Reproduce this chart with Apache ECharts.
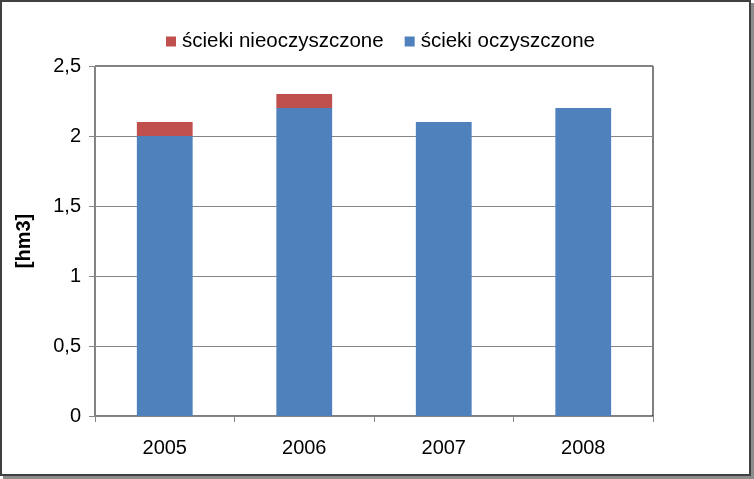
<!DOCTYPE html>
<html>
<head>
<meta charset="utf-8">
<script src="https://cdn.jsdelivr.net/npm/echarts@6/dist/echarts.min.js"></script>
<style>
  html, body { margin: 0; padding: 0; background: #fff; }
  #frame {
    position: absolute; left: 0; top: 0;
    width: 747px; height: 472px;
    border: 2px solid #404040;
    box-shadow: 3px 3px 0 #8c8c8c;
    background: #fff;
  }
  #chart { width: 747px; height: 472px; }
</style>
</head>
<body>
<div id="frame"><div id="chart"></div></div>
<script>
// dane
const years = ['2005', '2006', '2007', '2008'];
const treated = [2.0, 2.2, 2.1, 2.2];      // ścieki oczyszczone
const untreated = [0.1, 0.1, 0, 0];        // ścieki nieoczyszczone
const yTicks = { min: 0, max: 2.5, step: 0.5 };

const font = 'Liberation Sans, Arial, sans-serif';
const chart = echarts.init(document.getElementById('chart'));

const option = {
    animation: false,
    textStyle: { fontFamily: font },
    legend: {
        top: 29,
        left: 164,
        padding: 0,
        itemWidth: 10,
        itemHeight: 10,
        itemGap: 21,
        icon: 'rect',
        textStyle: { fontSize: 20.5, color: '#000', fontFamily: font, padding: [0, 0, 0, 1] },
        data: ['ścieki nieoczyszczone', 'ścieki oczyszczone']
    },
    grid: {
        left: 93,
        right: 96,
        top: 64,
        bottom: 58,
        show: true,
        borderColor: '#000',
        borderWidth: 1,
        backgroundColor: '#fff'
    },
    xAxis: {
        type: 'category',
        data: years,
        axisLine: { lineStyle: { color: '#868686' } },
        axisTick: { show: true, length: 6, lineStyle: { color: '#868686' } },
        axisLabel: { fontSize: 20, color: '#000', margin: 22 }
    },
    yAxis: {
        type: 'value',
        min: yTicks.min,
        max: yTicks.max,
        interval: yTicks.step,
        name: '[hm3]',
        nameLocation: 'middle',
        nameGap: 61,
        nameTextStyle: { fontSize: 20, fontWeight: 'bold', color: '#000' },
        axisLine: { show: true, lineStyle: { color: '#868686' } },
        axisTick: { show: true, length: 6, lineStyle: { color: '#868686' } },
        splitLine: { lineStyle: { color: '#868686' } },
        axisLabel: {
            fontSize: 20,
            color: '#000',
            margin: 14,
            formatter: (v) => String(v).replace('.', ',')
        }
    },
    series: [
        {
            name: 'ścieki oczyszczone',
            type: 'bar',
            stack: 'total',
            data: treated,
            barWidth: '40%',
            itemStyle: { color: '#4F81BD' }
        },
        {
            name: 'ścieki nieoczyszczone',
            type: 'bar',
            stack: 'total',
            data: untreated,
            barWidth: '40%',
            itemStyle: { color: '#C0504D' }
        }
    ]
};
chart.setOption(option);
</script>
</body>
</html>
